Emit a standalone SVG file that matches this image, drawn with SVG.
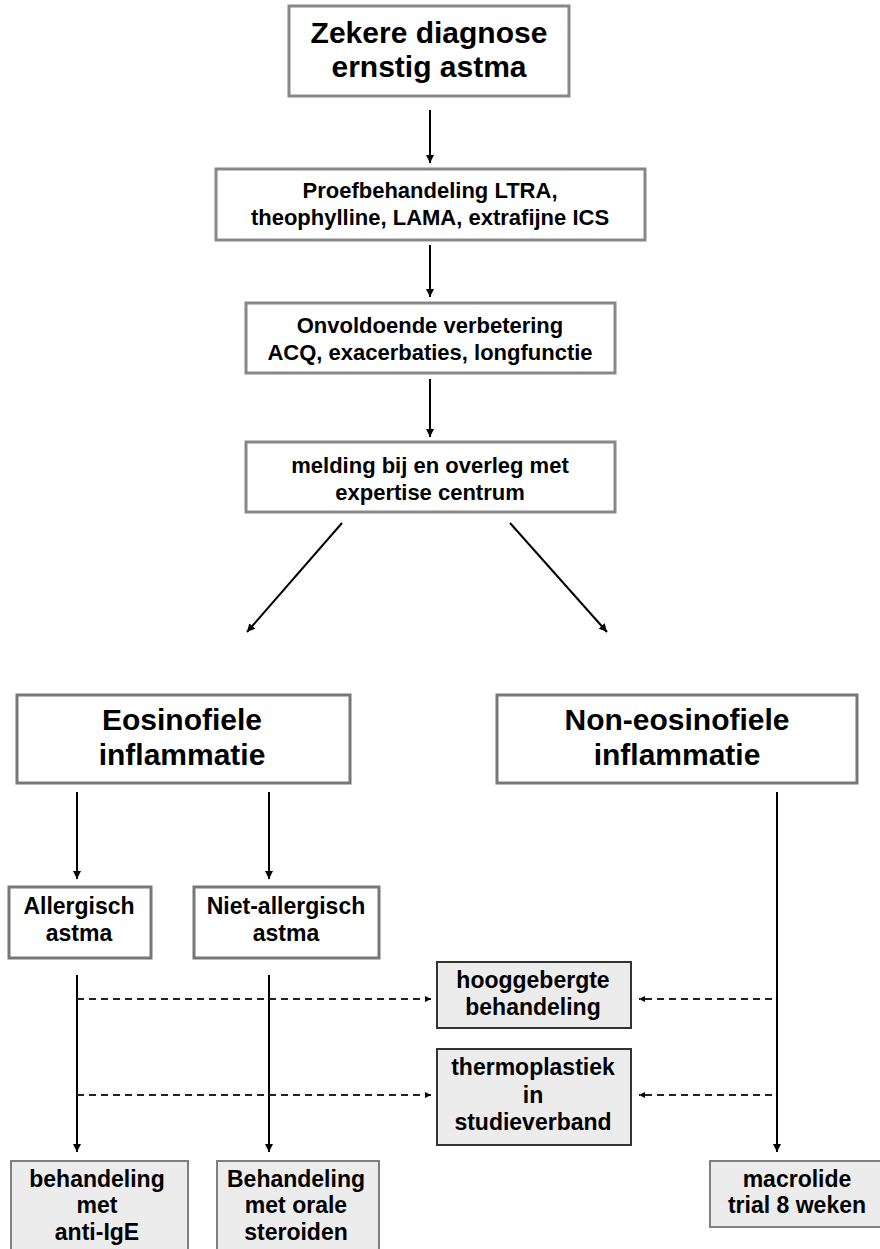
<svg xmlns="http://www.w3.org/2000/svg" width="880" height="1249" viewBox="0 0 880 1249">
<defs>
<marker id="ah" viewBox="0 0 10 10" refX="10" refY="5" markerWidth="8" markerHeight="8" markerUnits="userSpaceOnUse" orient="auto">
<path d="M0,0 L10,5 L0,10 Z" fill="#000"/>
</marker>
<marker id="ahs" viewBox="0 0 10 10" refX="10" refY="5" markerWidth="6" markerHeight="6" markerUnits="userSpaceOnUse" orient="auto">
<path d="M0,0 L10,5 L0,10 Z" fill="#000"/>
</marker>
</defs>
<style>
text{font-family:"Liberation Sans",Arial,sans-serif;font-weight:bold;fill:#000;text-anchor:middle}
.bw{fill:#fff;stroke:#888;stroke-width:3}
.bg{fill:#ececec;stroke:#808080;stroke-width:2}
.bd{fill:#ececec;stroke:#333;stroke-width:2}
.ba{fill:#fff;stroke:#777;stroke-width:3}
.t30{font-size:30px}
.t23{font-size:23px}
.t22{font-size:22px}
.c{fill:none;stroke:#000;stroke-width:2}
.d{fill:none;stroke:#222;stroke-width:2;stroke-dasharray:7 5}
</style>
<rect width="880" height="1249" fill="#fff"/>
<g id="connectors">
<line class="c" x1="430" y1="110" x2="430" y2="163" marker-end="url(#ah)"/>
<line class="c" x1="430" y1="245" x2="430" y2="297" marker-end="url(#ah)"/>
<line class="c" x1="430" y1="379" x2="430" y2="437" marker-end="url(#ah)"/>
<line class="c" x1="342" y1="523" x2="247" y2="632" marker-end="url(#ah)"/>
<line class="c" x1="510" y1="523" x2="607" y2="632" marker-end="url(#ah)"/>
<line class="c" x1="77" y1="792" x2="77" y2="879" marker-end="url(#ah)"/>
<line class="c" x1="269" y1="792" x2="269" y2="879" marker-end="url(#ah)"/>
<line class="c" x1="777" y1="792" x2="777" y2="1152" marker-end="url(#ah)"/>
<line class="c" x1="77" y1="975" x2="77" y2="1152" marker-end="url(#ah)"/>
<line class="c" x1="269" y1="975" x2="269" y2="1152" marker-end="url(#ah)"/>
<line class="d" x1="77" y1="999" x2="431" y2="999" marker-end="url(#ahs)"/>
<line class="d" x1="77" y1="1095" x2="431" y2="1095" marker-end="url(#ahs)"/>
<line class="d" x1="772" y1="999" x2="639" y2="999" marker-end="url(#ahs)"/>
<line class="d" x1="772" y1="1095" x2="639" y2="1095" marker-end="url(#ahs)"/>
</g>
<g id="n1"><rect class="bw" x="289" y="6" width="280" height="90"/>
<text class="t30" x="429" y="43">Zekere diagnose</text><text class="t30" x="429" y="77">ernstig astma</text></g>
<g id="n2"><rect class="bw" x="216" y="169" width="429" height="71"/>
<text class="t22" x="430" y="198">Proefbehandeling LTRA,</text><text class="t22" x="430" y="225">theophylline, LAMA, extrafijne ICS</text></g>
<g id="n3"><rect class="bw" x="246" y="303" width="369" height="70"/>
<text class="t22" x="430" y="333">Onvoldoende verbetering</text><text class="t22" x="430" y="360">ACQ, exacerbaties, longfunctie</text></g>
<g id="n4"><rect class="bw" x="246" y="442" width="369" height="70"/>
<text class="t22" x="430" y="473">melding bij en overleg met</text><text class="t22" x="430" y="500">expertise centrum</text></g>
<g id="n5"><rect class="ba" x="17" y="695" width="333" height="88"/>
<text class="t30" x="182" y="730">Eosinofiele</text><text class="t30" x="182" y="765">inflammatie</text></g>
<g id="n6"><rect class="ba" x="497" y="695" width="360" height="88"/>
<text class="t30" x="677" y="730">Non-eosinofiele</text><text class="t30" x="677" y="765">inflammatie</text></g>
<g id="n7"><rect class="ba" x="9" y="887" width="142" height="71"/>
<text class="t23" x="79" y="914">Allergisch</text><text class="t23" x="79" y="941">astma</text></g>
<g id="n8"><rect class="ba" x="194" y="887" width="185" height="71"/>
<text class="t23" x="286" y="914">Niet-allergisch</text><text class="t23" x="286" y="941">astma</text></g>
<g id="n9"><rect class="bd" x="437" y="962" width="194" height="66"/>
<text class="t23" x="533" y="988">hooggebergte</text><text class="t23" x="533" y="1015">behandeling</text></g>
<g id="n10"><rect class="bd" x="437" y="1049" width="194" height="96"/>
<text class="t23" x="533" y="1075">thermoplastiek</text><text class="t23" x="533" y="1103">in</text><text class="t23" x="533" y="1130">studieverband</text></g>
<g id="n11"><rect class="bg" x="11" y="1161" width="177" height="100"/>
<text class="t23" x="97" y="1187">behandeling</text><text class="t23" x="97" y="1213">met</text><text class="t23" x="97" y="1240">anti-IgE</text></g>
<g id="n12"><rect class="bg" x="217" y="1161" width="162" height="100"/>
<text class="t23" x="296" y="1187">Behandeling</text><text class="t23" x="296" y="1213">met orale</text><text class="t23" x="296" y="1240">steroiden</text></g>
<g id="n13"><rect class="bg" x="710" y="1161" width="180" height="66"/>
<text class="t23" x="797" y="1187">macrolide</text><text class="t23" x="797" y="1213">trial 8 weken</text></g>
</svg>
